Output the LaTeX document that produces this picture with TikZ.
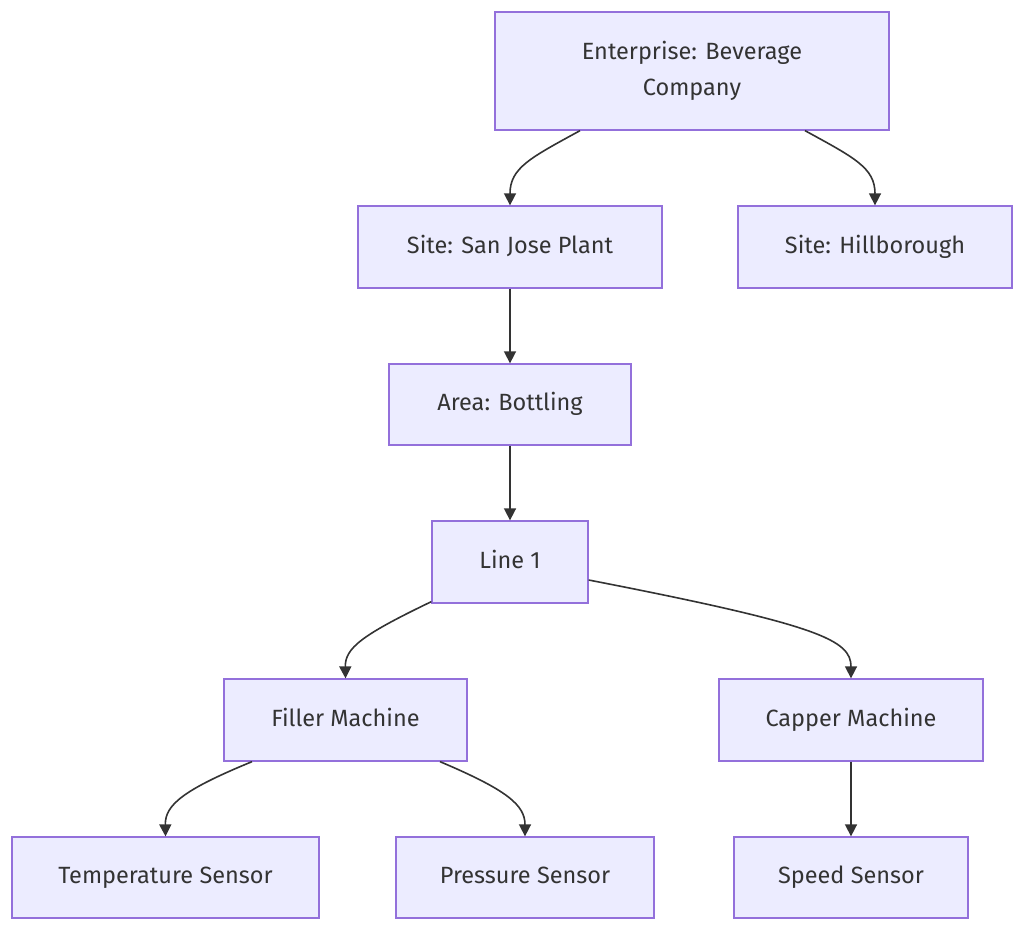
\documentclass[tikz,border=0pt]{standalone}
\usepackage{fontspec}
\setmainfont{Fira Sans}
\usetikzlibrary{arrows.meta}
\definecolor{boxfill}{HTML}{ECECFF}
\definecolor{boxline}{HTML}{9370DB}
\definecolor{ink}{HTML}{333333}
\tikzset{
  box/.style={draw=boxline, fill=boxfill, line width=1.3pt, text=ink, align=center,
    font=\fontsize{23.5}{36}\selectfont, inner sep=0pt, text height=17pt, text depth=5pt},
  link/.style={draw=ink, line width=1.6pt, -{Triangle[length=12pt,width=12pt]}}
}
\begin{document}
\begin{tikzpicture}[x=1pt,y=-1pt]
\useasboundingbox (0,0) rectangle (1024,931);
\node[box, text height=, text depth=, minimum width=394pt, minimum height=118pt] (ent) at (692,71) {Enterprise: Beverage\\Company};
\node[box, minimum width=304pt, minimum height=82pt] (sj) at (510,247) {Site: San Jose Plant};
\node[box, minimum width=274pt, minimum height=82pt] (hb) at (875,247) {Site: Hillborough};
\node[box, minimum width=242pt, minimum height=81pt] (area) at (510,404.5) {Area: Bottling};
\node[box, minimum width=156pt, minimum height=82pt] (line) at (510,562) {Line 1};
\node[box, minimum width=243pt, minimum height=82pt] (fill) at (345.5,720) {Filler Machine};
\node[box, minimum width=264pt, minimum height=82pt] (cap) at (851,720) {Capper Machine};
\node[box, minimum width=307pt, minimum height=81pt] (temp) at (165.5,877.5) {Temperature Sensor};
\node[box, minimum width=258pt, minimum height=81pt] (pres) at (525,877.5) {Pressure Sensor};
\node[box, minimum width=234pt, minimum height=81pt] (speed) at (851,877.5) {Speed Sensor};

\coordinate (e1) at ([xshift=-112pt]ent.south);
\coordinate (e2) at ([xshift=113pt]ent.south);
\coordinate (l1) at ([yshift=2pt]line.south west);
\coordinate (l2) at ([yshift=-18pt]line.east);
\coordinate (f1) at ([xshift=-93.5pt]fill.south);
\coordinate (f2) at ([xshift=94.5pt]fill.south);

\draw[link] (e1) .. controls (530,158) and (510,168) .. (sj.north);
\draw[link] (e2) .. controls (855,158) and (875,168) .. (hb.north);
\draw[link] (sj) -- (area);
\draw[link] (area) -- (line);
\draw[link] (l1) .. controls (362,635) and (345,648) .. (fill.north);
\draw[link] (l2) .. controls (820,625) and (851,640) .. (cap.north);
\draw[link] (cap) -- (speed);
\draw[link] (f1) .. controls (183,790) and (165,805) .. (temp.north);
\draw[link] (f2) .. controls (507,790) and (525,805) .. (pres.north);
\end{tikzpicture}
\end{document}
